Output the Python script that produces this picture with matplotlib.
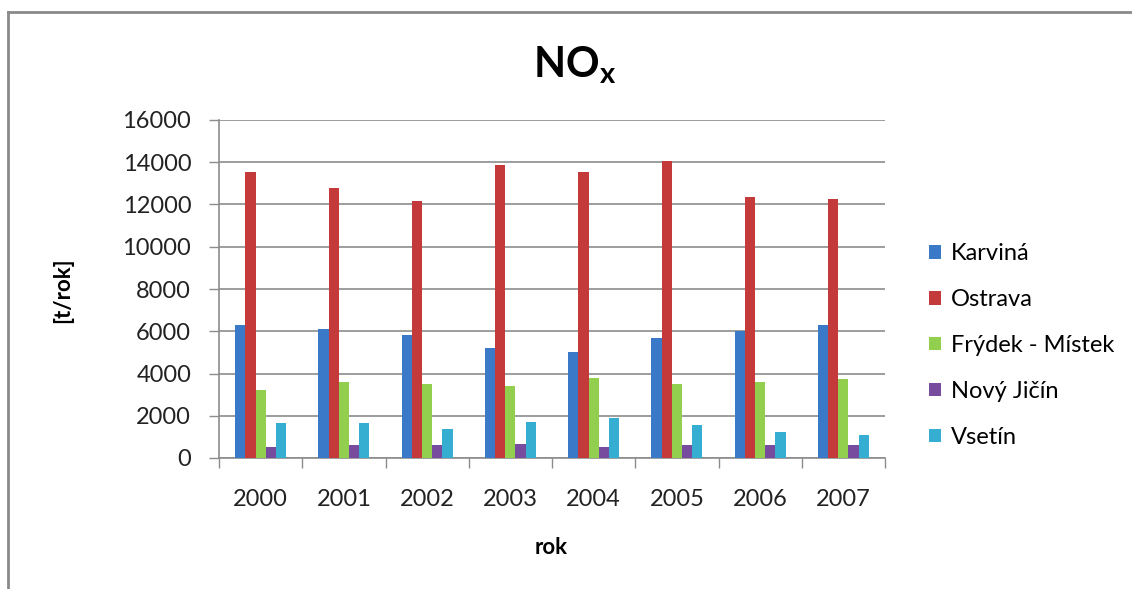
import matplotlib.pyplot as plt
import numpy as np
from matplotlib.patches import Patch
from matplotlib.lines import Line2D

plt.rcParams["font.family"] = ["Lato", "DejaVu Sans"]

years = ["2000", "2001", "2002", "2003", "2004", "2005", "2006", "2007"]
karvina = [6280, 6090, 5810, 5210, 5030, 5680, 6030, 6280]
ostrava = [13550, 12780, 12150, 13890, 13550, 14060, 12370, 12250]
frydek = [3220, 3580, 3520, 3390, 3800, 3520, 3580, 3740]
novy_jicin = [540, 600, 600, 660, 520, 600, 600, 600]
vsetin = [1640, 1640, 1360, 1690, 1880, 1580, 1220, 1100]

names = ["Karviná", "Ostrava", "Frýdek - Místek", "Nový Jičín", "Vsetín"]
series = [karvina, ostrava, frydek, novy_jicin, vsetin]
colors = ["#3A78C8", "#C4393A", "#92CF4F", "#774C9E", "#35AED2"]

fig = plt.figure(figsize=(11.32, 5.89), dpi=100)
ax = fig.add_axes([219 / 1132, 1 - 458 / 589, 666 / 1132, 338 / 589])

x = np.arange(len(years))
w = 0.122
for i, (vals, c) in enumerate(zip(series, colors)):
    ax.bar(x + (i - 2) * w, vals, width=w, color=c, zorder=3)

ax.set_xlim(-0.5, len(years) - 0.5)
ax.set_ylim(0, 16000)
ax.set_yticks(np.arange(0, 16001, 2000))
ax.grid(axis="y", color="#8c8c8c", linewidth=1.2, zorder=0)

ax.set_xticks(np.arange(-0.5, len(years), 1))
ax.set_xticklabels([])
ax.set_xticks(x, minor=True)
ax.set_xticklabels(years, minor=True)
ax.tick_params(axis="x", which="major", length=7, width=1, color="#8c8c8c")
ax.tick_params(axis="x", which="minor", length=0, pad=22, labelsize=17, labelcolor="#222222")
ax.tick_params(axis="y", length=7, width=1, color="#8c8c8c", pad=13, labelsize=17, labelcolor="#222222")

for s in ["top", "right"]:
    ax.spines[s].set_visible(False)
for s in ["left", "bottom"]:
    ax.spines[s].set_color("#8c8c8c")
    ax.spines[s].set_linewidth(1.2)

fig.text(575 / 1132, 1 - 65 / 589, "NO$_\\mathregular{x}$", ha="center", va="center",
         fontsize=30, fontweight="bold")
fig.text(551 / 1132, 1 - 548 / 589, "rok", ha="center", va="center",
         fontsize=16, fontweight="bold")
fig.text(63 / 1132, 1 - 290 / 589, "[t/rok]", ha="center", va="center",
         fontsize=16, fontweight="bold", rotation=90)

handles = [Patch(facecolor=c, edgecolor="none") for c in colors]
fig.legend(handles, names, loc="upper left", bbox_to_anchor=(920 / 1132, 1 - 234 / 589),
           frameon=False, fontsize=17, handlelength=0.5, handleheight=0.5,
           handletextpad=0.4, labelspacing=1.05, borderaxespad=0)

# outer chart frame (cut off at right and bottom)
fig.add_artist(Line2D([8 / 1132, 1], [1 - 12 / 589, 1 - 12 / 589], color="#8a8a8a", linewidth=2))
fig.add_artist(Line2D([8 / 1132, 8 / 1132], [0, 1 - 12 / 589], color="#8a8a8a", linewidth=2))

fig.savefig("out.png", dpi=100)
